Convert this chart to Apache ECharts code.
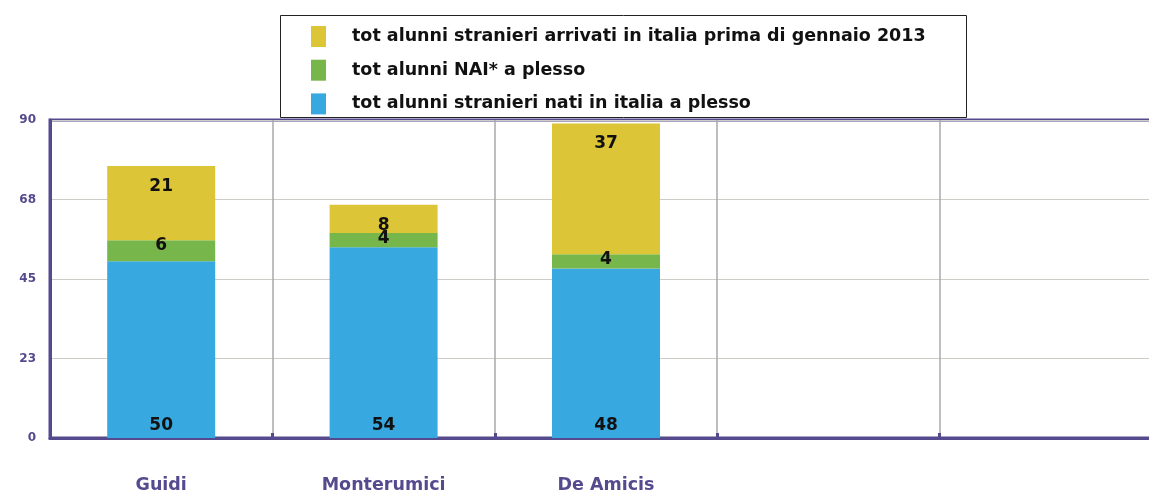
<!DOCTYPE html>
<html>
<head>
<meta charset="utf-8">
<script src="https://cdn.jsdelivr.net/npm/echarts@6/dist/echarts.min.js"></script>
<style>
html,body{margin:0;padding:0;background:#fff;}
#chart{width:1149px;height:495px;}
</style>
</head>
<body>
<div id="chart"></div>
<script>
const categories = ['Guidi', 'Monterumici', 'De Amicis', '', ''];
const seriesNames = [
  'tot alunni stranieri arrivati in italia prima di gennaio 2013',
  'tot alunni NAI* a plesso',
  'tot alunni stranieri nati in italia a plesso'
];
const natiInItalia = [50, 54, 48, null, null];
const naiPlesso = [6, 4, 4, null, null];
const arrivatiPrima = [21, 8, 37, null, null];
const yTickLabels = ['0', '23', '45', '68', '90'];

const purple = '#564a8e';
const FONT = 'DejaVu Sans';

const chart = echarts.init(document.getElementById('chart'), null, {renderer: 'canvas'});

const labelStyle = {
  show: true,
  color: '#111',
  fontFamily: FONT,
  fontWeight: 'bold',
  fontSize: 17
};

chart.setOption({
  animation: false,
  backgroundColor: '#fff',
  grid: {
    left: 50, top: 120, bottom: 57, width: 1112,
    outerBoundsMode: 'none',
    show: true, borderColor: purple, borderWidth: 3, backgroundColor: 'transparent'
  },
  graphic: [{
    type: 'rect', left: 280, top: 15, z: 10,
    shape: {width: 686, height: 102},
    style: {fill: '#fff', stroke: '#222', lineWidth: 1}
  }],
  legend: {
    orient: 'vertical',
    left: 306, top: 21, z: 20,
    data: seriesNames,
    itemWidth: 15, itemHeight: 21, itemGap: 12.7,
    icon: 'rect',
    textStyle: {
      color: '#111', fontFamily: FONT, fontWeight: 'bold', fontSize: 17.5,
      lineHeight: 21, padding: [0, 0, 0, 21]
    }
  },
  xAxis: {
    type: 'category',
    data: categories,
    axisLine: {lineStyle: {color: purple, width: 3}},
    axisTick: {show: true, inside: true, length: 5, lineStyle: {color: purple, width: 3}},
    splitLine: {show: true, lineStyle: {color: '#a9a9a9', width: 1.5}},
    axisLabel: {color: purple, fontFamily: FONT, fontWeight: 'bold', fontSize: 17.5, margin: 38}
  },
  yAxis: {
    type: 'value',
    min: 0, max: 90, interval: 22.5,
    axisLine: {show: true, lineStyle: {color: purple, width: 3}},
    axisTick: {show: false},
    splitLine: {lineStyle: {color: '#cfcbc6', width: 1}},
    axisLabel: {
      color: purple, fontFamily: FONT, fontWeight: 'bold', fontSize: 12, margin: 14,
      formatter: function (v, i) { return yTickLabels[i]; }
    }
  },
  series: [
    {
      name: seriesNames[2], type: 'bar', stack: 'a', barWidth: 108,
      data: natiInItalia,
      itemStyle: {color: '#37a9e0'},
      label: Object.assign({}, labelStyle, {position: 'insideBottom', distance: 4})
    },
    {
      name: seriesNames[1], type: 'bar', stack: 'a', barWidth: 108,
      data: naiPlesso,
      itemStyle: {color: '#76b64a'},
      label: Object.assign({}, labelStyle, {position: 'insideTop', distance: -3})
    },
    {
      name: seriesNames[0], type: 'bar', stack: 'a', barWidth: 108,
      data: arrivatiPrima,
      itemStyle: {color: '#dcc536'},
      label: Object.assign({}, labelStyle, {position: 'insideTop', distance: 12})
    }
  ]
});
</script>
</body>
</html>
